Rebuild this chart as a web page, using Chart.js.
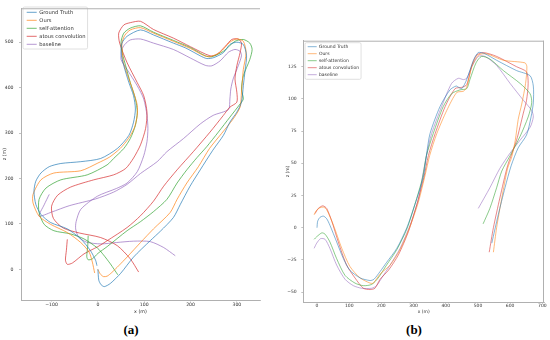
<!DOCTYPE html>
<html><head><meta charset="utf-8">
<script src="https://cdn.jsdelivr.net/npm/chart.js@4.4.0/dist/chart.umd.min.js"></script>
<style>
html,body{margin:0;padding:0;background:#fff;width:550px;height:340px;overflow:hidden;}
#ca{position:absolute;left:0;top:0;}
#cb{position:absolute;left:275px;top:0;}
.cap{position:absolute;font-family:"Liberation Serif","DejaVu Serif",serif;font-weight:bold;font-size:13px;line-height:13px;top:323px;width:40px;text-align:center;color:#000;}
</style></head><body>
<canvas id="ca" width="272" height="318"></canvas>
<canvas id="cb" width="275" height="318"></canvas>
<div class="cap" style="left:111px">(a)</div>
<div class="cap" style="left:394px">(b)</div>
<script>
// ---------- data ----------
const seriesNames = ['Ground Truth', 'Ours', 'self-attention', 'atous convolution', 'baseline'];

// chart (a)  [x (m), z (m)]
const gtA = [[0,0],[2,-24],[7,-34],[14,-38],[27,-31],[49,-9],[77,27],[113,63],[135,84],[163,114],[178,143],[199,183],[221,219],[248,262],[271,295],[285,324],[300,346],[310,368],[314,404],[318,440],[321,470],[314,495],[300,500],[285,495],[271,477],[250,466],[235,464],[221,470],[190,487],[163,498],[120,516],[92,527],[63,513],[52,498],[50,477],[56,448],[67,411],[77,382],[81,353],[77,324],[67,295],[42,266],[6,244],[-37,237],[-80,233],[-105,226],[-123,212],[-134,194],[-138,172],[-134,143],[-123,121],[-102,103],[-66,89],[-37,67],[-16,41],[-5,20],[-2,8]];
const oursA = [[0,0],[5,-10],[12,-16],[20,-15],[30,-7],[45,8],[63,27],[92,59],[120,89],[156,125],[171,154],[192,190],[217,226],[241,266],[267,299],[292,331],[307,357],[310,390],[312,415],[314,440],[320,477],[314,502],[300,507],[285,500],[264,478],[242,468],[228,471],[200,486],[163,502],[120,520],[92,532],[70,527],[58,515],[52,498],[53,475],[55,455],[67,419],[77,390],[85,361],[85,339],[79,312],[66,288],[48,266],[25,247],[0,234],[-37,217],[-95,212],[-123,197],[-140,165],[-140,146],[-127,117],[-102,99],[-66,81],[-37,59],[-19,38],[-12,16],[-7,-8]];
const selfAttA = [[-21,74],[-22,50],[-24,28],[-21,21],[-12,23],[0,35],[20,50],[63,85],[92,105],[120,127],[149,154],[171,190],[192,219],[214,246],[235,270],[260,302],[285,335],[307,364],[314,375],[310,397],[314,426],[328,462],[333,484],[328,498],[314,506],[296,502],[271,480],[246,468],[232,470],[200,488],[163,504],[120,522],[92,536],[70,531],[56,520],[50,500],[53,475],[60,448],[70,411],[81,375],[85,346],[81,317],[70,288],[56,266],[34,244],[20,230],[-23,208],[-80,197],[-112,179],[-127,154],[-127,125],[-116,99],[-95,85],[-59,78],[-30,67],[-1,47],[12,32],[27,12],[43,-12]];
const atousA = [[-66,66],[-68,42],[-70,20],[-66,11],[-55,14],[-30,34],[0,50],[20,63],[63,92],[92,118],[120,150],[142,183],[171,219],[206,259],[242,302],[271,339],[285,357],[300,368],[300,390],[296,419],[300,448],[307,477],[310,498],[303,507],[289,506],[275,491],[257,473],[242,470],[200,490],[163,509],[120,528],[92,546],[70,543],[56,538],[45,520],[47,498],[63,455],[85,411],[99,382],[106,346],[103,310],[92,274],[77,245],[60,222],[34,208],[-9,197],[-59,181],[-87,163],[-100,139],[-96,112],[-75,91],[-40,80],[6,70],[42,52],[70,23],[88,-6]];
const baseA = [[-105,165],[-116,142],[-127,117],[-100,126],[-62,140],[-5,155],[34,170],[63,187],[92,211],[128,237],[149,259],[185,288],[221,320],[249,339],[282,352],[285,375],[287,397],[292,419],[303,448],[310,470],[307,480],[296,484],[282,478],[264,459],[246,448],[232,449],[200,465],[163,484],[120,498],[92,507],[70,505],[58,495],[52,484],[50,462],[63,440],[85,404],[99,375],[106,339],[108,310],[106,281],[99,250],[85,215],[63,190],[40,178],[-1,161],[-37,132],[-47,105],[-48,89],[-42,72],[-25,60],[6,56],[40,59],[77,62],[113,61],[142,48],[167,30]];

// chart (b)  [x (m), z (m)]
const gtB = [[0,0],[2,5],[9,8],[20,9],[30,7],[40,2],[61,-11],[82,-24],[102,-33],[134,-39],[165,-41],[177,-40],[196,-34],[216,-27],[248,-16],[279,0],[304,18],[330,39],[341,58],[351,73],[382,94],[413,107],[432,110],[440,109],[450,108],[465,115],[486,130],[501,136],[522,135],[558,130],[620,122],[662,118],[672,110],[672,97],[665,86],[651,72],[625,62],[603,48],[584,31],[563,10],[543,-12]];
const oursB = [[-9,10],[-3,13],[9,15.5],[20,16],[30,14],[51,2],[77,-16],[102,-30],[134,-39],[165,-43],[175,-43],[196,-36],[227,-29],[258,-17],[289,1],[315,20],[336,41],[350,56],[372,73],[403,91],[434,105],[455,106],[465,109],[481,125],[501,134],[527,135],[579,130],[646,128],[652,125],[648,112],[636,96],[625,84],[616,68],[605,55],[592,46],[574,23],[558,0],[548,-19]];
const selfAttB = [[-9,-9],[-1,-7],[15,-4],[25,-5],[40,-11],[61,-24],[87,-37],[118,-43],[144,-45],[170,-44],[190,-39],[216,-29],[248,-17],[279,-1],[304,18],[328,39],[340,56],[361,73],[392,94],[418,104],[444,107],[465,108],[475,115],[494,128],[511,133],[537,131],[579,122],[631,112],[662,104],[667,97],[656,86],[631,71],[600,56],[574,44],[558,31],[537,15],[516,3]];
const atousB = [[-6,11],[4,15],[18,17],[30,15],[46,5],[66,-11],[92,-29],[118,-39],[144,-47],[165,-48],[180,-47],[196,-40],[222,-33],[253,-21],[284,-3],[310,18],[332,39],[346,56],[367,73],[398,94],[429,108],[450,109],[465,111],[481,126],[496,134],[517,136],[558,133],[620,125],[651,121],[656,112],[651,99],[641,89],[620,68],[592,48],[568,23],[548,0],[535,-19]];
const baseB = [[-9,-16],[-1,-12],[11,-8.5],[25,-9],[40,-16],[61,-29],[87,-40],[113,-45],[139,-47],[170,-47],[185,-45],[201,-39],[227,-29],[258,-16],[289,2],[315,22],[328,40],[340,56],[356,73],[387,94],[418,112],[439,116],[455,115],[465,116],[481,125],[501,133],[522,133],[558,126],[600,112],[641,99],[667,91],[672,86],[662,78],[631,68],[600,58],[568,46],[537,31],[501,15]];

const xTicksA = [-100, 0, 100, 200, 300];
const yTicksA = [0, 100, 200, 300, 400, 500];
const xTicksB = [0, 100, 200, 300, 400, 500, 600, 700];
const yTicksB = [-50, -25, 0, 25, 50, 75, 100, 125];

// ---------- styling ----------
const FONT = "'DejaVu Sans', sans-serif";
const colors = ['31,119,180', '255,127,14', '44,160,44', '214,39,40', '148,103,189'];
const TXT = '#333';
const SPINE = '#b0b0b0';

const fmt = v => String(v).replace('-', '\u2212');

const decor = {
  id: 'decor',
  afterLayout(chart, args, o) {
    const lg = chart.legend;
    if (lg) { lg.left = o.legendLeft; lg.top = o.legendTop; }
  },
  beforeDraw(chart, args, o) {
    const lg = chart.legend, ctx = chart.ctx;
    if (lg && lg.legendHitBoxes && lg.legendHitBoxes.length) {
      const hb = lg.legendHitBoxes;
      const l = hb[0].left - o.padL, t = hb[0].top - o.padT;
      let r = 0; hb.forEach(h => { r = Math.max(r, h.left + h.width); });
      r += o.padR;
      const last = hb[hb.length - 1];
      const b = last.top + last.height + o.padB;
      ctx.save();
      ctx.fillStyle = '#fff'; ctx.strokeStyle = '#d8d8d8'; ctx.lineWidth = 0.8;
      ctx.beginPath();
      if (ctx.roundRect) ctx.roundRect(l, t, r - l, b - t, 1.5); else ctx.rect(l, t, r - l, b - t);
      ctx.fill(); ctx.stroke();
      ctx.restore();
    }
  },
  afterDraw(chart, args, o) {
    const ctx = chart.ctx, ca = chart.chartArea;
    ctx.save();
    ctx.strokeStyle = SPINE; ctx.lineWidth = 1;
    ctx.beginPath();
    ctx.moveTo(ca.left, ca.top + 0.5); ctx.lineTo(ca.right, ca.top + 0.5);
    if (o.right) { ctx.moveTo(ca.right - 0.5, ca.top); ctx.lineTo(ca.right - 0.5, ca.bottom); }
    ctx.stroke();
    ctx.restore();
  }
};

function makeChart(id, sets, alpha, lw, ax) {
  const datasets = sets.map((pts, i) => ({
    label: seriesNames[i],
    data: pts.map(p => ({x: p[0], y: p[1]})),
    showLine: true,
    borderColor: 'rgba(' + colors[i] + ',' + alpha + ')',
    backgroundColor: 'rgba(' + colors[i] + ',' + alpha + ')',
    borderWidth: lw,
    pointRadius: 0,
    tension: 0.25,
    fill: false
  }));
  const tickFont = {family: FONT, size: ax.tickSize};
  const titleFont = {family: FONT, size: ax.titleSize};
  return new Chart(document.getElementById(id), {
    type: 'scatter',
    data: {datasets},
    plugins: [decor],
    options: {
      responsive: false, animation: false, events: [],
      layout: {padding: {left: 0, top: ax.padTop, right: ax.padRight, bottom: 0}},
      plugins: {
        tooltip: {enabled: false},
        decor: ax.decor,
        legend: {
          display: true, position: 'chartArea', align: 'start',
          labels: {
            font: {family: FONT, size: ax.legendSize}, color: TXT,
            usePointStyle: true, pointStyle: 'line', pointStyleWidth: ax.legendLine,
            boxWidth: ax.legendLine, padding: ax.legendPad
          }
        }
      },
      scales: {
        x: {
          type: 'linear', position: 'bottom', min: ax.xmin, max: ax.xmax,
          afterBuildTicks: s => { s.ticks = ax.xticks.map(v => ({value: v})); },
          afterFit: s => { s.height = ax.xh; },
          grid: {display: true, drawOnChartArea: false, drawTicks: true, tickLength: ax.xtl, color: '#999', lineWidth: 0.6},
          border: {display: true, color: SPINE, width: 1},
          ticks: {font: tickFont, color: TXT, padding: ax.xtp, maxRotation: 0, autoSkip: false, callback: v => fmt(v)},
          title: {display: true, text: 'x (m)', font: titleFont, color: TXT, padding: {top: 0, bottom: ax.xtitlePad}}
        },
        y: {
          type: 'linear', position: 'left', min: ax.ymin, max: ax.ymax,
          afterBuildTicks: s => { s.ticks = ax.yticks.map(v => ({value: v})); },
          afterFit: s => { s.width = ax.yw; },
          grid: {display: true, drawOnChartArea: false, drawTicks: true, tickLength: 2, color: '#999', lineWidth: 0.6},
          border: {display: true, color: SPINE, width: 1},
          ticks: {font: tickFont, color: TXT, padding: ax.ytp, autoSkip: false, callback: v => fmt(v)},
          title: {display: true, text: 'z (m)', font: titleFont, color: TXT, padding: {top: ax.ytitlePad, bottom: 0}}
        }
      }
    }
  });
}

makeChart('ca', [gtA, oursA, selfAttA, atousA, baseA], 0.68, 1, {
  xmin: -166, xmax: 350, ymin: -67.5, ymax: 574.7,
  xticks: xTicksA, yticks: yTicksA,
  padTop: 5, padRight: 12, xh: 18, yw: 21,
  xtl: 1.5, xtp: 1, ytp: 5.5,
  tickSize: 4.6, titleSize: 4.8, xtitlePad: 3.8, ytitlePad: 2.1,
  legendSize: 5.2, legendLine: 10, legendPad: 2.8,
  decor: {legendLeft: 23.9, legendTop: 6.9, padL: 3.7, padT: 2.7, padR: 2, padB: 2.1, right: false}
});

makeChart('cb', [gtB, oursB, selfAttB, atousB, baseB], 0.55, 1, {
  xmin: -42.6, xmax: 705.2, ymin: -57.9, ymax: 145.2,
  xticks: xTicksB, yticks: yTicksB,
  padTop: 40.7, padRight: 6, xh: 15.7, yw: 28.3,
  xtl: 1, xtp: 0, ytp: 4.6,
  tickSize: 4.5, titleSize: 4.5, xtitlePad: 3.6, ytitlePad: 10.6,
  legendSize: 4.5, legendLine: 9, legendPad: 2.5,
  decor: {legendLeft: 30.2, legendTop: 41.95, padL: 2.7, padT: 1.75, padR: 2, padB: 2.35, right: true}
});
</script>
</body></html>
